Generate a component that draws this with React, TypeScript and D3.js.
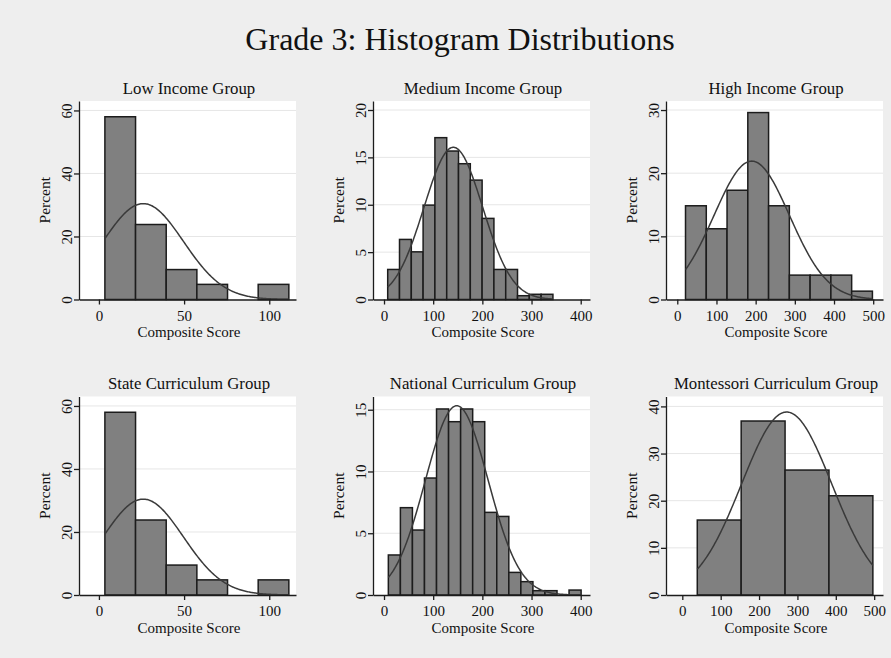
import React, { useEffect, useRef } from 'react';
import * as d3 from 'd3';

// Chart text
const mainTitle = 'Grade 3: Histogram Distributions';
const xLabel = 'Composite Score';
const yLabel = 'Percent';

// Low Income Group
const lowStart = 3.5;
const lowWidth = 18;
const lowPercent = [58, 23.8, 9.5, 4.8, 0, 4.8];
const lowFit = [26, 23.6]; // mean, sd of the normal overlay
const lowXRange = [-11.7, 115.7];
const lowYMax = 63;
const lowXTicks = [0, 50, 100];
const lowYTicks = [0, 20, 40, 60];

// Medium Income Group
const medStart = 7.5;
const medWidth = 24;
const medPercent = [3.17, 6.34, 5.03, 9.96, 17.08, 15.67, 14.33, 12.6, 8.56, 3.17, 3.17, 0.4, 0.55, 0.55];
const medFit = [141, 59.6];
const medXRange = [-22.4, 418.9];
const medYMax = 20.95;
const medXTicks = [0, 100, 200, 300, 400];
const medYTicks = [0, 5, 10, 15, 20];

// High Income Group
const highStart = 21;
const highWidth = 53;
const highPercent = [14.84, 11.2, 17.3, 29.6, 14.84, 3.86, 3.86, 3.86, 1.32];
const highFit = [190, 96.5];
const highXRange = [-28.8, 525];
const highYMax = 31.43;
const highXTicks = [0, 100, 200, 300, 400, 500];
const highYTicks = [0, 10, 20, 30];

// State Curriculum Group
const stateStart = 3.5;
const stateWidth = 18;
const statePercent = [58, 23.8, 9.5, 4.8, 0, 4.8];
const stateFit = [26, 23.6];
const stateXRange = [-11.7, 115.7];
const stateYMax = 63;
const stateXTicks = [0, 50, 100];
const stateYTicks = [0, 20, 40, 60];

// National Curriculum Group
const natStart = 8.8;
const natWidth = 24.5;
const natPercent = [3.24, 7.07, 5.26, 9.47, 15.06, 14.03, 15.06, 14.03, 6.69, 6.36, 1.83, 1.08, 0.35, 0.35, 0, 0.4];
const natFit = [148, 63.8];
const natXRange = [-22.4, 418.9];
const natYMax = 16.07;
const natXTicks = [0, 100, 200, 300, 400];
const natYTicks = [0, 5, 10, 15];

// Montessori Curriculum Group
const montStart = 39;
const montWidth = 114.4;
const montPercent = [15.9, 36.9, 26.5, 21.05];
const montFit = [272, 117.6];
const montXRange = [-42.5, 523];
const montYMax = 42.1;
const montXTicks = [0, 100, 200, 300, 400, 500];
const montYTicks = [0, 10, 20, 30, 40];

const panels = [
  { title: 'Low Income Group', start: lowStart, width: lowWidth, percent: lowPercent, fit: lowFit, xRange: lowXRange, yMax: lowYMax, xTicks: lowXTicks, yTicks: lowYTicks },
  { title: 'Medium Income Group', start: medStart, width: medWidth, percent: medPercent, fit: medFit, xRange: medXRange, yMax: medYMax, xTicks: medXTicks, yTicks: medYTicks },
  { title: 'High Income Group', start: highStart, width: highWidth, percent: highPercent, fit: highFit, xRange: highXRange, yMax: highYMax, xTicks: highXTicks, yTicks: highYTicks },
  { title: 'State Curriculum Group', start: stateStart, width: stateWidth, percent: statePercent, fit: stateFit, xRange: stateXRange, yMax: stateYMax, xTicks: stateXTicks, yTicks: stateYTicks },
  { title: 'National Curriculum Group', start: natStart, width: natWidth, percent: natPercent, fit: natFit, xRange: natXRange, yMax: natYMax, xTicks: natXTicks, yTicks: natYTicks },
  { title: 'Montessori Curriculum Group', start: montStart, width: montWidth, percent: montPercent, fit: montFit, xRange: montXRange, yMax: montYMax, xTicks: montXTicks, yTicks: montYTicks },
];

const WIDTH = 891;
const HEIGHT = 658;
const FONT = '"Liberation Serif", "Times New Roman", serif';
const plotW = 217;
const plotH = 198.5;
const lefts = [79, 373, 666];
const tops = [101, 396.5];

const App = () => {
  const ref = useRef<SVGSVGElement>(null);

  useEffect(() => {
    if (!ref.current) return;
    const svg = d3.select(ref.current);
    svg.selectAll('*').remove();

    svg.append('rect').attr('width', WIDTH).attr('height', HEIGHT).attr('fill', '#eeeeee');

    svg.append('text')
      .attr('x', 460).attr('y', 49.5)
      .attr('text-anchor', 'middle')
      .attr('font-family', FONT).attr('font-size', 32).attr('fill', '#111')
      .text(mainTitle);

    panels.forEach((p, idx) => {
      const left = lefts[idx % 3];
      const top = tops[Math.floor(idx / 3)];
      const bottom = top + plotH;
      const cx = left + plotW / 2 + 1.5;

      const x = d3.scaleLinear().domain(p.xRange).range([left, left + plotW]);
      const y = d3.scaleLinear().domain([0, p.yMax]).range([bottom, top]);
      const g = svg.append('g');

      // plot region
      g.append('rect')
        .attr('x', left).attr('y', top)
        .attr('width', plotW).attr('height', plotH)
        .attr('fill', '#ffffff');

      // gridlines
      g.selectAll('line.grid')
        .data(p.yTicks.filter(t => t > 0))
        .join('line')
        .attr('class', 'grid')
        .attr('x1', left).attr('x2', left + plotW)
        .attr('y1', d => y(d)).attr('y2', d => y(d))
        .attr('stroke', '#e6e6e6').attr('stroke-width', 1);

      // bars
      const bins = p.percent.map((v, i) => ({ x0: p.start + i * p.width, x1: p.start + (i + 1) * p.width, v }));
      g.selectAll('rect.bar')
        .data(bins.filter(b => b.v > 0))
        .join('rect')
        .attr('class', 'bar')
        .attr('x', d => x(d.x0))
        .attr('width', d => x(d.x1) - x(d.x0))
        .attr('y', d => y(d.v))
        .attr('height', d => y(0) - y(d.v))
        .attr('fill', '#808080')
        .attr('stroke', '#1c1c1c')
        .attr('stroke-width', 1.5);

      // normal density overlay, scaled to percent per bin
      const [mean, sd] = p.fit;
      const end = p.start + p.percent.length * p.width;
      const pts = d3.range(0, 201).map(i => p.start + (end - p.start) * i / 200);
      const dens = (v: number) =>
        (100 * p.width * Math.exp(-0.5 * ((v - mean) / sd) ** 2)) / (sd * Math.sqrt(2 * Math.PI));
      const line = d3.line<number>().x(d => x(d)).y(d => y(dens(d)));
      g.append('path')
        .datum(pts)
        .attr('fill', 'none')
        .attr('stroke', '#3a3a3a')
        .attr('stroke-width', 1.5)
        .attr('d', line);

      // x axis
      const xAxis = g.append('g')
        .attr('transform', `translate(0,${bottom})`)
        .call(d3.axisBottom(x).tickValues(p.xTicks).tickSize(5).tickSizeOuter(0).tickFormat(d3.format('d')));
      xAxis.selectAll('text').attr('y', 21).attr('dy', 0);

      // y axis, labels turned like the reference
      const yAxis = g.append('g')
        .attr('transform', `translate(${left},0)`)
        .call(d3.axisLeft(y).tickValues(p.yTicks).tickSize(5).tickSizeOuter(0).tickFormat(d3.format('d')));
      yAxis.selectAll('.tick text')
        .attr('x', 0).attr('dy', 0)
        .attr('text-anchor', 'middle')
        .attr('transform', 'translate(-7,0) rotate(-90)');

      [xAxis, yAxis].forEach(a => {
        a.attr('font-family', FONT).attr('font-size', 15);
        a.selectAll('text').attr('fill', '#111');
        a.selectAll('path, line').attr('stroke', '#1c1c1c').attr('stroke-width', 1.3);
      });

      // titles
      g.append('text')
        .attr('x', cx).attr('y', top - 7.5)
        .attr('text-anchor', 'middle')
        .attr('font-family', FONT).attr('font-size', 16.8).attr('fill', '#111')
        .text(p.title);

      g.append('text')
        .attr('x', cx).attr('y', bottom + 37.5)
        .attr('text-anchor', 'middle')
        .attr('font-family', FONT).attr('font-size', 15).attr('fill', '#111')
        .text(xLabel);

      g.append('text')
        .attr('transform', `translate(${left - 29},${top + plotH / 2}) rotate(-90)`)
        .attr('text-anchor', 'middle')
        .attr('font-family', FONT).attr('font-size', 15.5).attr('fill', '#111')
        .text(yLabel);
    });
  }, []);

  return (
    <svg
      ref={ref}
      width={WIDTH}
      height={HEIGHT}
      style={{ position: 'absolute', left: 0, top: 0, display: 'block' }}
    />
  );
};

export default App;
